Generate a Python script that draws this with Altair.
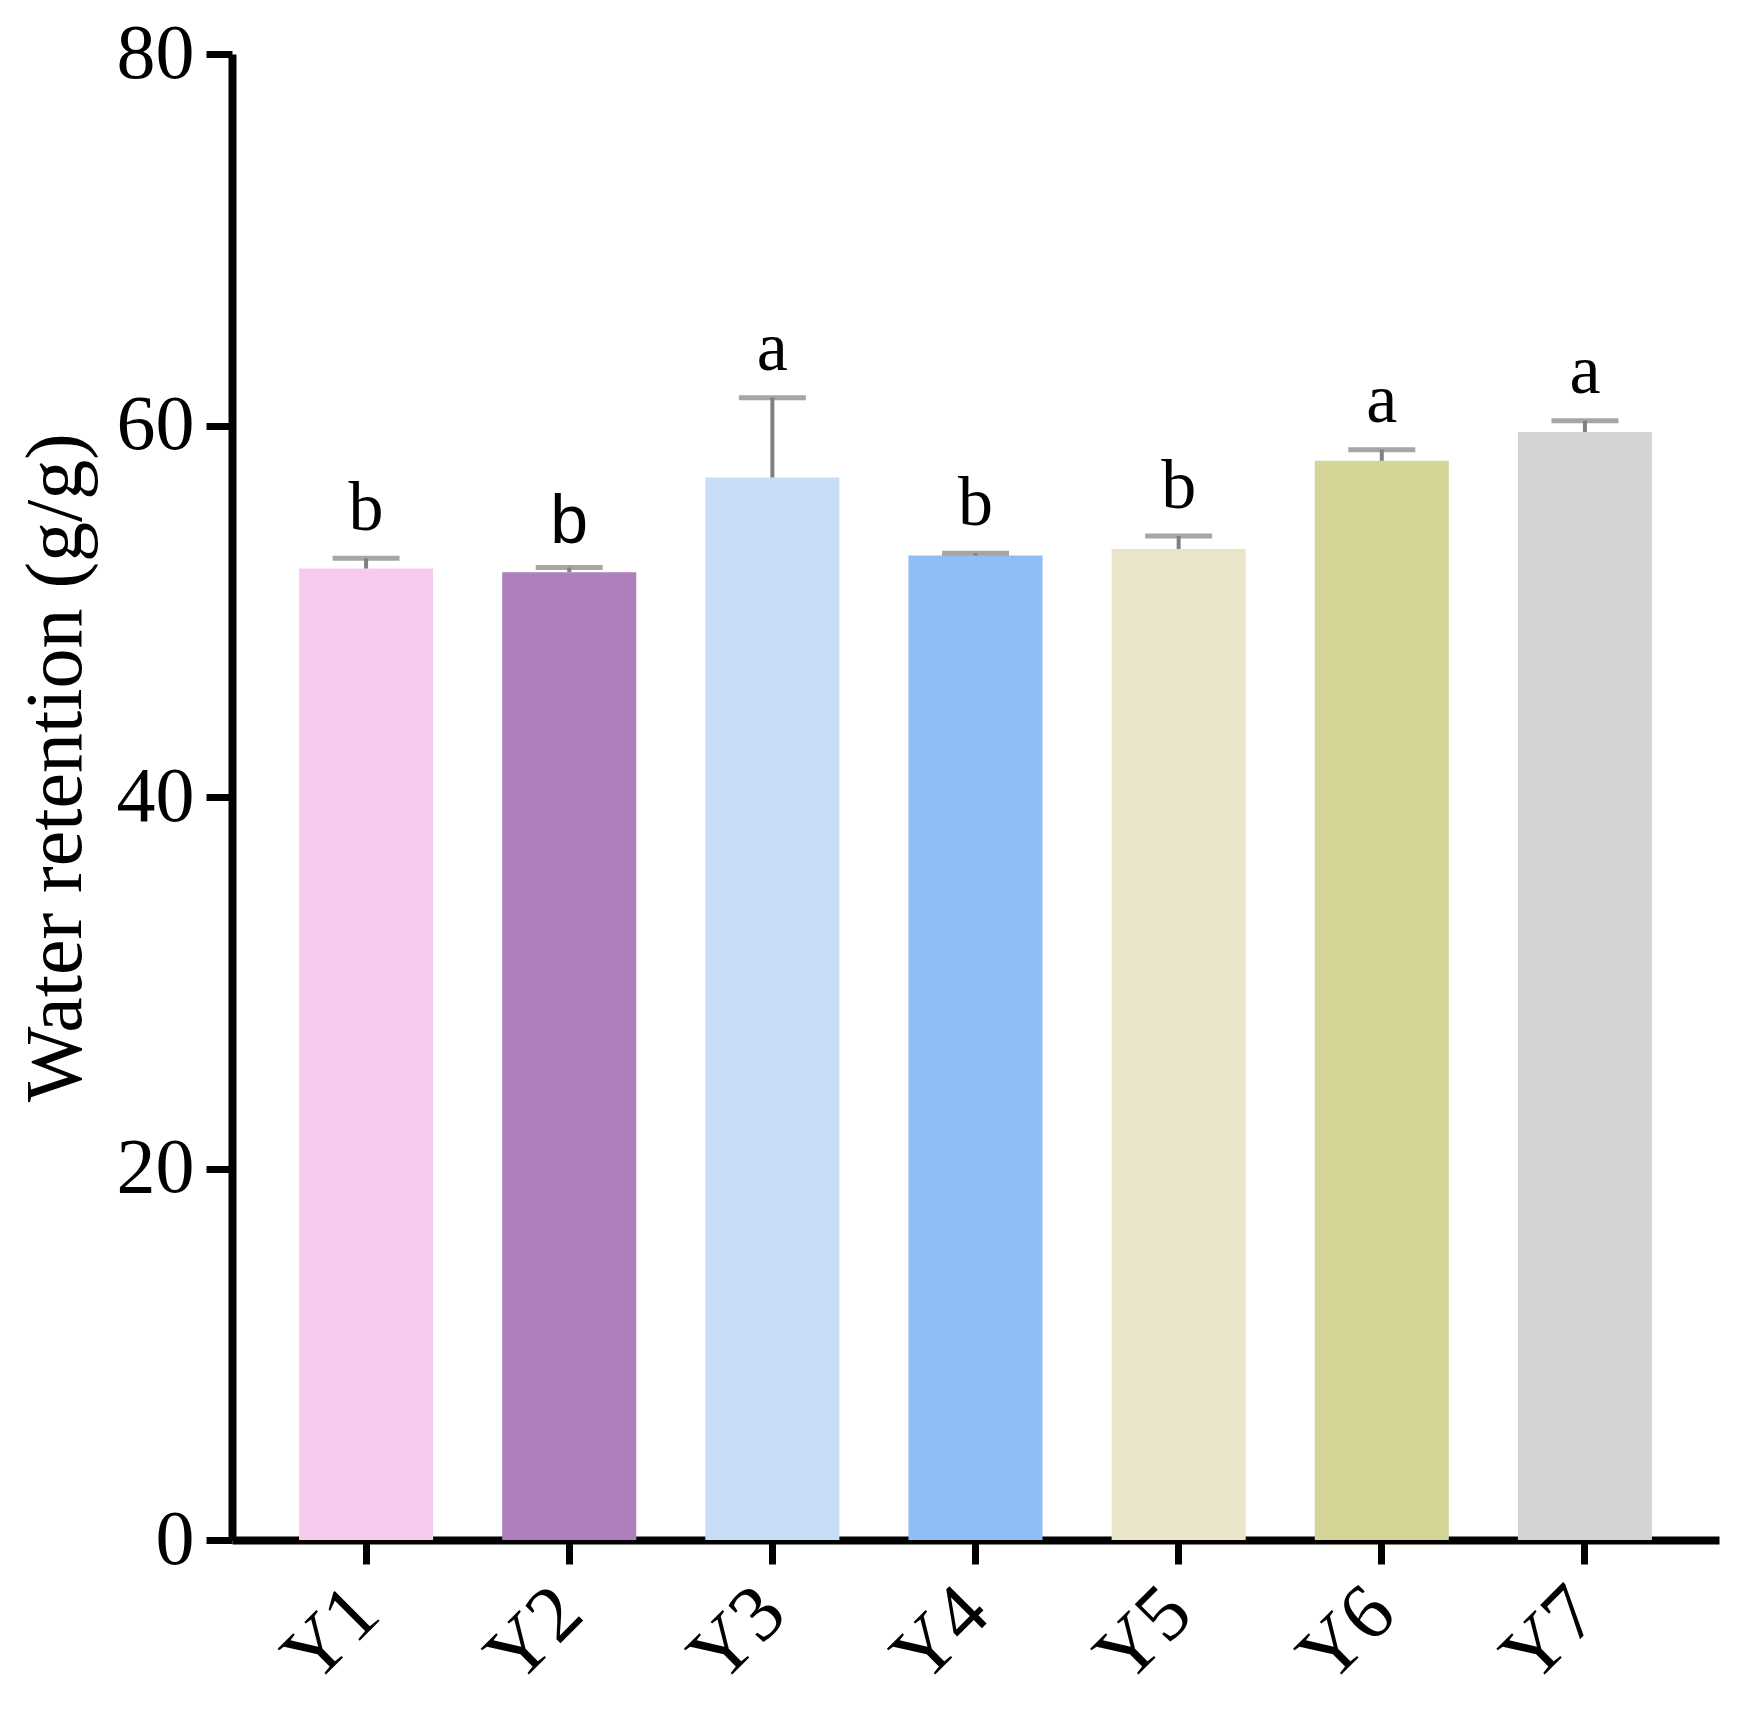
import altair as alt
import pandas as pd

groups = ["Y1", "Y2", "Y3", "Y4", "Y5", "Y6", "Y7"]
means = [52.3, 52.1, 57.2, 53.0, 53.35, 58.1, 59.65]
errors = [0.55, 0.25, 4.3, 0.12, 0.7, 0.6, 0.6]
letters = ["b", "b", "a", "b", "b", "a", "a"]
colors = ["#F7CBEE", "#AF7EBD", "#C8DDF7", "#90BDF7", "#EAE5C8", "#D5D597", "#D3D3D3"]

df = pd.DataFrame({"group": groups, "mean": means, "err": errors,
                   "letter": letters, "color": colors})
df["upper"] = df["mean"] + df["err"]

SERIF = "Liberation Serif"

x = alt.X("group:N", sort=groups, title=None,
          scale=alt.Scale(paddingInner=0.34, paddingOuter=0.33),
          axis=alt.Axis(labelAngle=-45, labelAlign="right", labelBaseline="middle",
                        labelFont=SERIF, labelFontSize=80, labelColor="black",
                        labelPadding=36, domainColor="black", domainWidth=8,
                        tickColor="black", tickWidth=7, tickSize=24, grid=False))

yscale = alt.Scale(domain=[0, 80], nice=False)
y_axis = alt.Axis(values=[0, 20, 40, 60, 80], labelFont=SERIF, labelFontSize=78,
                  labelColor="black", labelPadding=12, domainColor="black",
                  domainWidth=8, tickColor="black", tickWidth=7, tickSize=26,
                  grid=False, title="Water retention (g/g)", titleFont=SERIF,
                  titleFontSize=80, titleFontWeight="normal", titleColor="black",
                  titleX=-176, titleY=713, titleAngle=270, titleAlign="center",
                  titleBaseline="middle")

base = alt.Chart(df)

bars = base.mark_bar().encode(
    x=x,
    y=alt.Y("mean:Q", scale=yscale, axis=y_axis),
    color=alt.Color("color:N", scale=None),
)

err_line = base.mark_rule(color="#808080", strokeWidth=4).encode(
    x=x, y=alt.Y("mean:Q", scale=yscale), y2="upper:Q")

err_cap = base.mark_tick(color="#808080", thickness=5, size=67).encode(
    x=x, y=alt.Y("upper:Q", scale=yscale))

txt_serif = base.transform_filter("datum.group != 'Y2'").mark_text(
    font=SERIF, fontSize=70, dy=-28, baseline="alphabetic", color="black").encode(
    x=x, y=alt.Y("upper:Q", scale=yscale), text="letter:N")

txt_sans = base.transform_filter("datum.group == 'Y2'").mark_text(
    font="Liberation Sans", fontSize=68, dy=-25, baseline="alphabetic", color="black").encode(
    x=x, y=alt.Y("upper:Q", scale=yscale), text="letter:N")

chart = alt.layer(bars, err_line, err_cap, txt_serif, txt_sans).properties(
    width=1487, height=1486,
    background="white",
    autosize=alt.AutoSizeParams(type="none"),
    padding={"left": 224, "top": 46, "right": 20, "bottom": 160},
).configure_view(strokeWidth=0, stroke=None)

chart.save("out.html", embed_options={"renderer": "svg", "actions": False})
